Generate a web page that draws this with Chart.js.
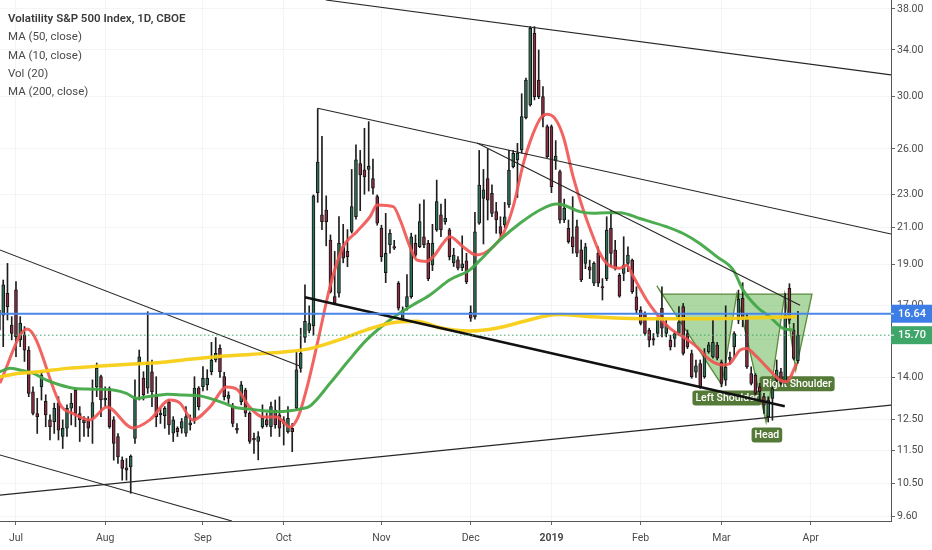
<!DOCTYPE html>
<html lang="en">
<head>
<meta charset="UTF-8">
<title>Volatility S&amp;P 500 Index, 1D, CBOE</title>
<script src="https://cdn.jsdelivr.net/npm/chart.js"></script>
<style>
  html, body { margin: 0; padding: 0; background: #fff; }
  #wrap { position: relative; width: 932px; height: 550px; }
  #legend {
    position: absolute; left: 8px; top: 9px;
    font-family: Roboto, "Liberation Sans", Arial, sans-serif;
    font-size: 11.5px; line-height: 18.3px; color: #4a4a4a;
    pointer-events: none;
  }
  #legend .title { font-weight: 600; color: #3a3a3a; }
</style>
</head>
<body>
<div id="wrap">
  <canvas id="vix"></canvas>
  <div id="legend">
    <div class="title">Volatility S&amp;P 500 Index, 1D, CBOE</div>
    <div>MA (50, close)</div>
    <div>MA (10, close)</div>
    <div>Vol (20)</div>
    <div>MA (200, close)</div>
  </div>
</div>
<script>
// daily bars, x = trading day index (0 = 2 Jul 2018), first bar is 26 Jun 2018
const firstBar = -4;
const opens = [
  16.81,16.58,17.59,16.14,
  17.75,15.50,15.71,15.08,13.47,12.70,13.65,13.12,12.48,12.42,
  13.06,11.93,12.20,12.88,13.53,12.70,12.48,12.48,12.53,13.65,
  14.03,13.17,13.59,12.48,11.93,11.19,10.96,10.99,11.87,14.56,
  13.98,13.60,14.22,13.29,12.65,12.62,13.10,12.04,12.20,12.20,
  12.04,12.31,12.48,13.60,13.66,13.72,14.22,14.68,15.15,14.03,
  13.23,12.94,12.20,13.11,13.53,12.71,11.87,11.77,12.25,12.48,
  12.25,12.82,12.65,12.48,12.09,12.20,12.88,14.35,15.60,15.90,
  16.10,23.10,21.75,22.04,20.32,17.43,17.59,19.96,19.70,20.80,
  21.65,25.00,24.57,24.60,24.00,22.86,20.97,18.60,20.05,19.96,
  18.07,16.36,16.95,17.43,20.14,19.96,20.50,20.14,18.99,20.88,
  21.75,21.36,20.88,19.10,19.25,18.85,19.20,16.70,16.50,21.26,
  22.74,24.00,23.06,21.94,21.07,21.16,22.34,24.78,25.24,25.93,
  28.30,29.29,35.57,31.34,29.96,27.62,27.62,25.20,24.45,21.45,
  20.97,20.50,21.07,19.78,19.07,18.90,18.07,19.60,17.91,18.30,
  20.97,19.77,18.47,18.56,19.07,19.24,17.42,16.80,16.65,15.92,
  15.56,15.77,16.88,15.77,15.49,15.56,15.77,16.96,15.77,14.94,
  14.20,14.54,14.03,15.00,14.80,15.28,14.60,13.90,14.70,15.21,
  16.35,17.35,16.42,14.15,14.09,13.65,13.29,12.59,13.23,13.90,
  14.22,13.84,17.82,15.92,14.65
];
const highs = [
  17.59,18.23,19.07,16.51,
  18.15,16.51,16.07,15.22,13.65,13.23,14.22,13.36,12.65,13.06,
  13.29,12.48,13.00,13.41,13.59,12.94,12.59,12.59,13.91,14.56,
  14.09,13.65,13.65,12.59,12.03,11.29,11.24,11.35,13.91,15.08,
  14.22,16.73,14.68,14.03,12.88,12.94,13.17,12.59,12.25,12.53,
  12.94,12.65,14.03,13.66,14.42,14.30,15.40,15.60,15.30,14.20,
  13.47,13.05,12.36,13.85,13.60,12.76,12.04,12.09,13.00,12.71,
  13.10,13.17,13.29,12.59,12.94,12.36,15.00,16.00,18.00,17.00,
  22.96,29.00,26.90,22.90,20.60,19.70,21.65,21.20,20.90,24.60,
  26.30,25.90,27.50,28.00,25.30,22.96,21.15,21.84,20.90,20.30,
  18.16,16.95,18.50,20.70,20.60,22.40,22.65,20.30,21.20,23.90,
  22.40,22.70,20.97,19.87,19.42,20.55,19.60,17.00,21.90,25.90,
  24.60,26.00,23.60,22.50,21.64,22.50,25.90,25.90,26.40,30.20,
  31.50,36.22,36.22,34.00,30.80,27.75,27.75,26.60,24.56,22.70,
  21.45,22.85,21.45,20.32,20.14,19.24,19.15,19.95,18.30,21.64,
  22.00,20.30,18.56,20.50,19.95,19.30,17.90,16.96,16.72,16.00,
  15.77,16.50,17.90,16.35,15.70,15.85,16.96,17.11,15.92,15.08,
  14.68,14.68,15.14,15.40,16.35,15.40,14.68,17.00,15.00,15.85,
  17.74,18.10,16.65,14.41,14.15,13.78,13.41,13.29,13.65,14.68,
  14.35,17.58,18.05,16.21,16.75
];
const lows = [
  15.22,15.22,16.36,15.50,
  14.81,15.22,14.62,13.29,12.65,12.03,13.17,12.25,11.82,12.03,
  11.82,11.55,11.93,12.31,12.25,11.77,11.93,11.93,11.71,13.29,
  12.59,12.94,12.20,11.19,11.09,10.60,10.60,10.23,11.71,13.17,
  13.17,13.41,12.94,12.25,12.36,12.20,12.00,11.77,11.93,12.04,
  11.93,12.14,12.36,12.82,13.50,13.53,14.10,14.60,14.00,13.17,
  13.05,12.25,12.04,13.00,12.59,11.71,11.40,11.20,12.20,12.25,
  11.93,12.20,11.93,11.66,12.04,11.45,12.82,14.20,15.40,15.80,
  15.70,22.50,20.90,20.00,17.60,17.05,17.40,19.10,18.90,20.70,
  21.50,22.00,23.00,23.20,23.00,21.15,19.17,18.10,19.60,19.80,
  16.80,16.30,16.80,17.35,19.40,19.90,19.90,18.20,18.70,20.80,
  20.50,21.20,19.25,18.91,18.74,18.70,18.05,16.30,16.40,21.20,
  20.10,21.45,21.64,20.69,20.50,21.00,22.20,24.70,22.80,25.70,
  28.20,29.20,29.70,29.80,27.60,25.40,23.10,24.60,21.26,21.30,
  20.14,19.60,19.42,18.15,18.80,18.30,17.95,17.91,17.27,18.20,
  18.90,18.73,17.40,18.20,18.65,17.58,16.65,16.14,15.70,15.21,
  15.28,15.63,15.63,15.63,15.08,15.21,15.70,14.88,15.14,13.97,
  14.00,13.59,13.97,14.95,14.75,14.68,13.65,13.70,14.50,14.80,
  16.20,16.06,14.35,13.72,13.35,13.17,12.70,12.41,12.47,13.84,
  13.72,13.78,16.20,14.68,14.55
];
const closes = [
  15.92,17.99,16.96,15.78,
  15.64,16.21,15.08,13.41,12.70,12.59,14.09,12.65,12.25,12.88,
  12.14,12.20,12.88,13.06,12.70,12.48,12.39,12.20,13.08,14.35,
  13.17,13.23,12.25,11.71,11.29,10.94,10.89,11.31,13.23,14.81,
  13.36,14.60,13.47,12.59,12.71,12.88,12.31,12.48,12.09,12.42,
  12.59,12.38,13.60,12.94,13.97,13.97,14.68,14.95,14.22,13.29,
  13.35,12.36,12.14,13.72,12.71,11.77,11.82,11.93,12.53,12.31,
  12.94,12.31,12.20,12.36,12.53,12.09,14.29,14.95,16.30,16.20,
  22.90,25.10,21.36,21.36,17.65,17.12,20.14,19.34,19.42,22.25,
  25.24,24.24,24.10,24.80,23.38,21.26,19.42,19.60,20.69,19.87,
  16.89,16.81,17.43,20.50,19.50,21.36,20.05,18.30,20.14,22.55,
  20.88,21.55,19.42,19.50,18.82,19.05,18.15,16.44,20.78,23.58,
  23.27,22.64,21.84,21.45,20.69,21.64,24.56,25.69,25.69,28.38,
  31.34,36.06,29.96,29.96,28.38,25.46,23.48,25.50,21.45,22.14,
  20.23,19.95,19.60,18.23,19.95,18.73,19.07,18.07,17.85,20.87,
  19.59,18.80,17.45,18.98,19.50,17.66,16.80,16.21,15.77,15.49,
  15.49,16.42,16.00,16.14,15.21,15.77,16.28,14.94,15.21,14.03,
  14.45,13.65,14.94,15.30,15.40,14.75,13.78,14.40,14.80,15.77,
  17.30,16.40,14.41,13.78,13.41,13.47,12.99,13.17,13.59,14.28,
  13.78,16.57,16.35,14.74,15.70
];

// moving averages (bar index, value)
const ma10X = [-3.8,2.6,10.8,13.2,17.4,21.4,27.5,31.5,36.2,38.6,41.6,45.6,49.6,52.2,55,58.1,61.4,64.5,66.4,68.5,71.1,73.9,77,80.2,83.3,85,88.8,90.4,92.7,94.3,96.6,98.2,100.5,102.1,105.2,108.4,112.3,114.7,117,119.4,121.7,123.7,124.9,126.8,128.8,131.1,133.5,135.8,137.4,139,142.1,143.7,145.3,148.4,150.7,153.9,157,160.2,163.3,166.4,168,170.4,171.9,174.3,176.6,179.8,181.3,183.7];
const ma10Y = [13.79,15.96,12.92,12.71,12.48,12.92,12.21,12.48,13.17,13.06,12.48,12.92,13.64,13.53,12.92,12.58,12.58,12.24,12.58,13.64,15.50,17.91,19.95,20.78,21.64,22.34,22.24,21.45,19.95,19.25,19.17,19.42,20.14,20.50,19.95,19.51,19.95,20.69,22.24,25.01,27.12,28.38,28.56,28.25,26.88,24.12,22.04,20.50,19.60,19.07,18.82,18.98,18.39,17.27,16.65,15.99,15.63,15.21,14.68,14.48,14.54,15.08,15.14,14.81,14.41,13.90,13.84,14.54];
const ma50X = [-3.8,-1.4,0.9,4.1,7.2,10.4,13.5,16.6,19.8,22.9,26,28.4,30.8,33.9,35.5,39.4,43.3,45.6,48.8,51.9,55.1,58.2,61.3,64.5,66.8,69.2,74,78,82.5,88,92.7,97.4,102.1,106.8,109.2,113.9,118.6,123.3,127.2,128.8,132.7,135.8,139,142.1,146.8,153.1,157,160.9,164.9,168.8,171.1,174.3,177.4,180.5,182.9];
const ma50Y = [14.22,14.35,14.29,14.16,13.90,13.72,13.60,13.57,13.56,13.53,13.41,13.23,13.29,13.35,13.38,13.35,13.32,13.23,13.07,12.90,12.85,12.79,12.76,12.79,12.85,12.96,13.80,14.60,15.50,16.36,16.96,17.51,18.24,18.74,19.24,20.32,21.26,22.04,22.40,22.34,21.94,21.84,21.88,21.88,21.54,21.06,20.68,20.13,19.42,18.73,17.74,16.96,16.50,15.99,15.92];
const ma200X = [-3.8,0.9,5.6,11.9,19.8,27.6,33.9,39.4,47.2,55.1,62.9,69.2,76,82.5,88,94.3,99.8,106.8,113,119.3,124.9,128,134.3,146.8,162.6,183.7];
const ma200Y = [14.03,14.16,14.22,14.35,14.44,14.52,14.58,14.68,14.81,14.90,15.00,15.14,15.50,15.93,16.22,16.30,16.02,15.88,16.00,16.29,16.55,16.60,16.52,16.42,16.42,16.50];

// trend lines: [x1, y1, x2, y2]
const trendLines = [
  [72.9, 38.93, 205.9, 31.78],
  [71.0, 29.04, 205.9, 20.65],
  [108.5, 26.43, 184.5, 17.03],
  [-3.8, 19.78, 66.8, 14.44],
  [-3.8, 11.35, 50.8, 9.49],
  [-3.8, 10.18, 205.9, 12.99]
];
const supportLine = [68.0, 17.40, 180.9, 12.95];

const levelPrice = 16.64;
const lastPrice = 15.70;

// inverse head and shoulders drawing
const patternX = [150.8, 166.1, 169.6, 176.5, 180.9, 183.5, 187.3, 152.0];
const patternY = [17.94, 13.72, 17.55, 12.41, 17.55, 14.28, 17.55, 17.55];
const labelText = ['Left Shoulder', 'Head', 'Right Shoulder'];
const labelX = [167.3, 176.7, 183.8];
const labelY = [13.24, 11.98, 13.76];

const yTicks = [9.6, 10.5, 11.5, 12.5, 14, 15.5, 17, 19, 21, 23, 26, 30, 34, 38];
const monthIdx = [0, 21, 44, 63, 86, 107, 126, 147, 166, 187];
const monthLabels = ['Jul', 'Aug', 'Sep', 'Oct', 'Nov', 'Dec', '2019', 'Feb', 'Mar', 'Apr'];

const xMin = -3.76, xMax = 205.9;
const yMin = 9.49, yMax = 38.93;

Chart.defaults.font.family = 'Roboto, "Liberation Sans", Arial, sans-serif';

const pts = (xs, ys) => xs.map((v, k) => ({ x: v, y: ys[k] }));
const seg = (l) => [{ x: l[0], y: l[1] }, { x: l[2], y: l[3] }];

const wickData = closes.map((c, k) => ({ x: firstBar + k, y: [lows[k], highs[k]] }));
const bodyData = closes.map((c, k) => ({ x: firstBar + k, y: [opens[k], c] }));
const bodyColors = closes.map((c, k) => c >= opens[k] ? '#2f6e52' : '#8a2d42');

const datasets = [];
datasets.push({
  type: 'bar', data: wickData, backgroundColor: '#1e1e1e',
  barThickness: 1, grouped: false, order: 20
});
datasets.push({
  type: 'bar', data: bodyData, backgroundColor: bodyColors,
  borderColor: '#151515', borderWidth: 1, borderSkipped: false,
  barThickness: 3, grouped: false, order: 19
});

const maLine = (data, color, width) => ({
  type: 'line', data: data, borderColor: color, borderWidth: width,
  pointRadius: 0, tension: 0.4, cubicInterpolationMode: 'monotone', order: 10
});
datasets.push(maLine(pts(ma200X, ma200Y), 'rgba(247, 205, 20, 0.95)', 3.5));
datasets.push(maLine(pts(ma50X, ma50Y), 'rgba(67, 168, 71, 0.95)', 3));
datasets.push(maLine(pts(ma10X, ma10Y), 'rgba(239, 83, 80, 0.9)', 3));

trendLines.forEach(l => datasets.push({
  type: 'line', data: seg(l), borderColor: '#262626', borderWidth: 1.1,
  pointRadius: 0, tension: 0, order: 5
}));
datasets.push({
  type: 'line', data: seg(supportLine), borderColor: '#111', borderWidth: 2.4,
  pointRadius: 0, tension: 0, order: 5
});
datasets.push({
  type: 'line', data: [{ x: xMin, y: levelPrice }, { x: xMax, y: levelPrice }],
  borderColor: '#4a86e8', borderWidth: 2, pointRadius: 0, order: 4
});
datasets.push({
  type: 'line', data: [{ x: xMin, y: lastPrice }, { x: xMax, y: lastPrice }],
  borderColor: '#3fa66a', borderWidth: 1, borderDash: [1.5, 2.5], pointRadius: 0, order: 4
});

const overlay = {
  id: 'overlay',
  beforeDatasetsDraw(chart) {
    const { ctx, chartArea: a, scales: { x, y } } = chart;
    ctx.save();
    ctx.beginPath();
    ctx.rect(a.left, a.top, a.right - a.left, a.bottom - a.top);
    ctx.clip();
    ctx.beginPath();
    patternX.forEach((v, k) => {
      const px = x.getPixelForValue(v), py = y.getPixelForValue(patternY[k]);
      if (k === 0) ctx.moveTo(px, py); else ctx.lineTo(px, py);
    });
    ctx.closePath();
    ctx.fillStyle = 'rgba(92, 178, 74, 0.5)';
    ctx.fill();
    ctx.strokeStyle = '#5b8a3a';
    ctx.lineWidth = 1.3;
    ctx.stroke();

    ctx.font = '500 10.5px Roboto, "Liberation Sans", Arial, sans-serif';
    ctx.textAlign = 'center';
    ctx.textBaseline = 'middle';
    labelText.forEach((t, k) => {
      const cx = x.getPixelForValue(labelX[k]), cy = y.getPixelForValue(labelY[k]);
      const w = ctx.measureText(t).width + 6, h = 15;
      ctx.fillStyle = '#557a38';
      ctx.beginPath();
      ctx.roundRect(cx - w / 2, cy - h / 2, w, h, 3);
      ctx.fill();
      ctx.fillStyle = '#ffffff';
      ctx.fillText(t, cx, cy + 0.5);
    });
    ctx.restore();
  },
  afterDraw(chart) {
    const { ctx, chartArea: a, scales: { y } } = chart;
    const tags = [[levelPrice, '#3d7ee6'], [lastPrice, '#3fa66a']];
    ctx.save();
    ctx.font = '500 11px Roboto, "Liberation Sans", Arial, sans-serif';
    ctx.textAlign = 'left';
    ctx.textBaseline = 'middle';
    tags.forEach(([v, color]) => {
      const py = y.getPixelForValue(v);
      ctx.fillStyle = color;
      ctx.fillRect(a.right, py - 9, chart.width - a.right, 18);
      ctx.fillStyle = '#ffffff';
      ctx.fillRect(a.right, py - 0.5, 3, 1);
      ctx.fillText(v.toFixed(2), a.right + 7, py + 0.5);
    });
    ctx.restore();
  }
};

new Chart(document.getElementById('vix'), {
  type: 'bar',
  data: { datasets: datasets },
  plugins: [overlay],
  options: {
    responsive: true,
    maintainAspectRatio: false,
    animation: false,
    events: [],
    layout: { padding: 0 },
    plugins: { legend: { display: false }, tooltip: { enabled: false } },
    scales: {
      x: {
        type: 'linear', min: xMin, max: xMax, offset: false,
        grid: { color: '#f2f4f8', offset: false, tickLength: 4, tickColor: '#666' },
        border: { display: true, color: '#555' },
        afterBuildTicks: (s) => { s.ticks = monthIdx.map(v => ({ value: v })); },
        afterFit: (s) => { s.height = 29; s.paddingLeft = 0; s.paddingRight = 0; },
        ticks: {
          autoSkip: false, maxRotation: 0, padding: 7, color: '#4a4a4a',
          font: (c) => ({ size: 10.5, weight: c.index === 6 ? 'bold' : 'normal' }),
          callback: (v, i) => monthLabels[i]
        }
      },
      y: {
        type: 'logarithmic', position: 'right', min: yMin, max: yMax,
        grid: { color: '#f2f4f8', tickLength: 4, tickColor: '#666' },
        border: { display: true, color: '#555' },
        afterBuildTicks: (s) => { s.ticks = yTicks.map(v => ({ value: v })); },
        afterFit: (s) => { s.width = 41; s.paddingTop = 0; s.paddingBottom = 0; },
        ticks: {
          autoSkip: false, padding: 2, color: '#4a4a4a', font: { size: 10.5 },
          callback: (v) => Number(v).toFixed(2)
        }
      }
    }
  }
});
</script>
</body>
</html>
